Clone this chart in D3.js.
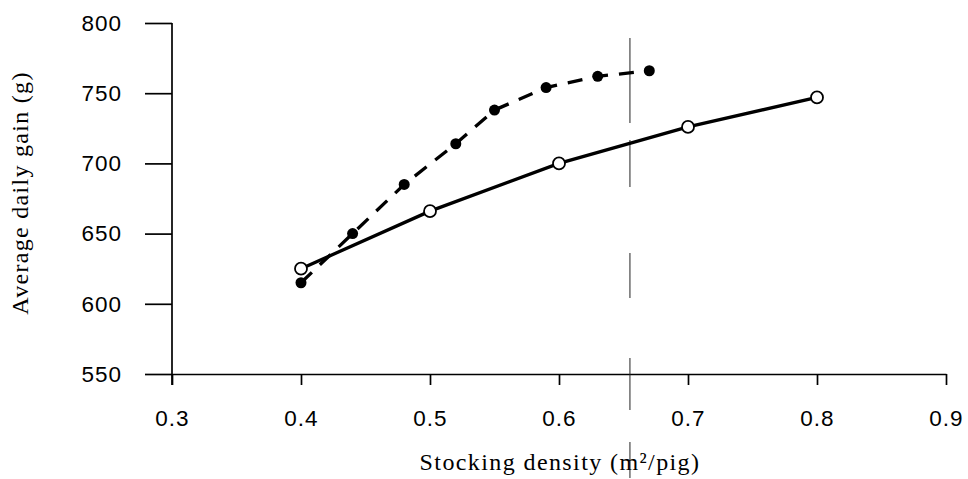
<!DOCTYPE html>
<html lang="en">

<head>
    <meta charset="UTF-8">
    <title>Stocking density</title>
    <script src="https://cdnjs.cloudflare.com/ajax/libs/d3/7.9.0/d3.min.js"></script>
    <style>
        body { margin: 0; background: white; }
    </style>
</head>

<body>
    <svg id="chart" width="968" height="479"></svg>

    <script>
        // open circles, solid line
        var solidX = [0.4, 0.5, 0.6, 0.7, 0.8];
        var solidY = [625, 666, 700, 726, 747];

        // filled dots, dashed line
        var dashedX = [0.4, 0.44, 0.48, 0.52, 0.55, 0.59, 0.63, 0.67];
        var dashedY = [615, 650, 685, 714, 738, 754, 762, 766];

        var xTicks = [0.3, 0.4, 0.5, 0.6, 0.7, 0.8, 0.9];
        var yTicks = [550, 600, 650, 700, 750, 800];

        // vertical reference line
        var refX = 0.655;

        var svg = d3.select("#chart");

        var x = d3.scaleLinear().domain([0.3, 0.9]).range([172, 946]);
        var y = d3.scaleLinear().domain([550, 800]).range([374, 23]);

        var tickFont = "'Liberation Sans', Arial, sans-serif";
        var labelFont = "'Liberation Serif', 'Times New Roman', serif";

        var yAxis = svg.append("g")
            .attr("transform", "translate(" + x(0.3) + ",0)")
            .call(d3.axisLeft(y).tickValues(yTicks).tickSizeInner(27).tickSizeOuter(0).tickPadding(23)
                .tickFormat(d3.format("d")));

        var xAxis = svg.append("g")
            .attr("transform", "translate(0," + y(550) + ")")
            .call(d3.axisBottom(x).tickValues(xTicks).tickSizeInner(11).tickSizeOuter(0).tickPadding(25)
                .tickFormat(d3.format(".1f")));

        [xAxis, yAxis].forEach(function (ax) {
            ax.select(".domain").attr("stroke", "#000").attr("stroke-width", 1.7);
            ax.selectAll(".tick line").attr("stroke", "#000").attr("stroke-width", 1.7);
            ax.selectAll(".tick text")
                .attr("fill", "#000")
                .attr("font-family", tickFont)
                .attr("font-size", 22.5)
                .attr("letter-spacing", 1);
        });

        // y axis runs down past the x axis to the end of the 0.3 tick
        yAxis.select(".domain").attr("d", "M0," + y(800) + "V" + (y(550) + 11));

        svg.append("line")
            .attr("x1", x(refX)).attr("x2", x(refX))
            .attr("y1", 38).attr("y2", 478)
            .attr("stroke", "#222")
            .attr("stroke-width", 1)
            .attr("stroke-dasharray", "85,17,47,66,45,60,52,32,36");

        var line = d3.line()
            .x(function (d) { return x(d[0]); })
            .y(function (d) { return y(d[1]); });

        var solidPts = solidX.map(function (v, i) { return [v, solidY[i]]; });
        var dashedPts = dashedX.map(function (v, i) { return [v, dashedY[i]]; });

        svg.append("path")
            .datum(dashedPts)
            .attr("d", line)
            .attr("fill", "none")
            .attr("stroke", "#000")
            .attr("stroke-width", 3.3)
            .attr("stroke-dasharray", "15,11");

        svg.append("path")
            .datum(solidPts)
            .attr("d", line)
            .attr("fill", "none")
            .attr("stroke", "#000")
            .attr("stroke-width", 3.3);

        svg.append("g")
            .selectAll("circle")
            .data(dashedPts)
            .enter().append("circle")
            .attr("cx", function (d) { return x(d[0]); })
            .attr("cy", function (d) { return y(d[1]); })
            .attr("r", 5.5)
            .attr("fill", "#000");

        svg.append("g")
            .selectAll("circle")
            .data(solidPts)
            .enter().append("circle")
            .attr("cx", function (d) { return x(d[0]); })
            .attr("cy", function (d) { return y(d[1]); })
            .attr("r", 6)
            .attr("fill", "white")
            .attr("stroke", "#000")
            .attr("stroke-width", 1.8);

        svg.append("text")
            .attr("transform", "rotate(-90)")
            .attr("x", -193)
            .attr("y", 28)
            .attr("text-anchor", "middle")
            .attr("font-family", labelFont)
            .attr("font-size", 24)
            .attr("letter-spacing", 1.3)
            .attr("fill", "#000")
            .text("Average daily gain (g)");

        svg.append("text")
            .attr("x", 560)
            .attr("y", 470)
            .attr("text-anchor", "middle")
            .attr("font-family", labelFont)
            .attr("font-size", 24)
            .attr("letter-spacing", 1.4)
            .attr("fill", "#000")
            .text("Stocking density (m²/pig)");
    </script>
</body>

</html>
